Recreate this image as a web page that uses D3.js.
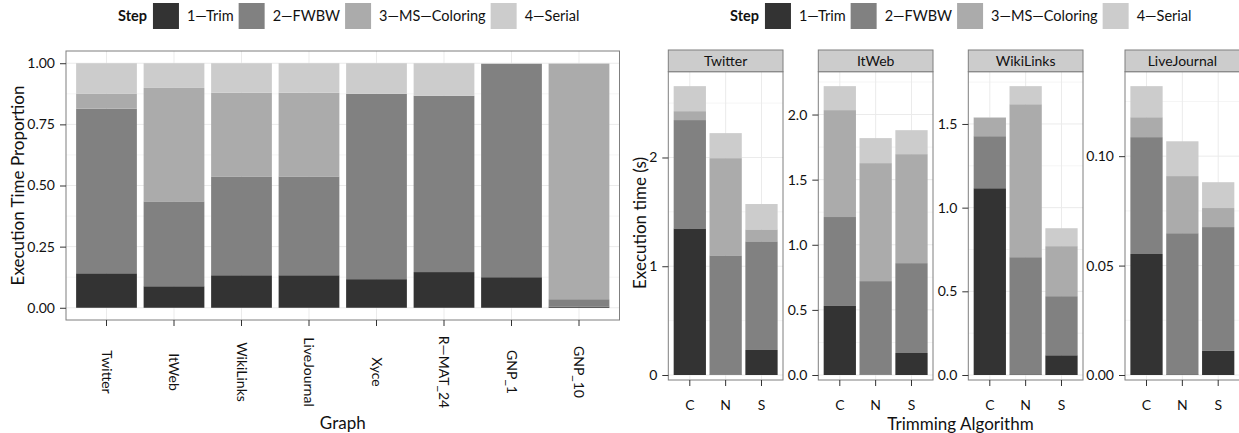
<!DOCTYPE html>
<html>
<head>
<meta charset="UTF-8">
<title>Execution time by step</title>
<script src="https://d3js.org/d3.v7.min.js"></script>
<style>
  body { margin: 0; background: #fff; }
  text { font-family: Lato, sans-serif; fill: #111; }
</style>
</head>
<body>
<div id="chart"></div>
<script>
// legend / steps
const steps = ["1\u2014Trim", "2\u2014FWBW", "3\u2014MS\u2014Coloring", "4\u2014Serial"];
const stepColors = ["#333333", "#818181", "#ababab", "#cccccc"];

// left chart: proportion of execution time per graph
const graphs = ["Twitter", "ItWeb", "WikiLinks", "LiveJournal", "Xyce", "R\u2014MAT_24", "GNP_1", "GNP_10"];
const propTrim   = [0.141, 0.088, 0.133, 0.133, 0.117, 0.146, 0.125, 0.005];
const propFWBW   = [0.673, 0.347, 0.404, 0.404, 0.758, 0.721, 0.872, 0.030];
const propMS     = [0.062, 0.464, 0.342, 0.342, 0.000, 0.000, 0.000, 0.963];
const propSerial = [0.124, 0.101, 0.121, 0.121, 0.125, 0.133, 0.003, 0.002];
const propTicks = [0, 0.25, 0.5, 0.75, 1];

// right chart: seconds per step, rows = C, N, S
const facets = ["Twitter", "ItWeb", "WikiLinks", "LiveJournal"];
const algorithms = ["C", "N", "S"];
const timeTwitter = [[1.348, 0.996, 0.082, 0.230], [0.005, 1.095, 0.894, 0.230], [0.230, 0.999, 0.110, 0.233]];
const timeItWeb = [[0.530, 0.683, 0.821, 0.184], [0.004, 0.717, 0.906, 0.192], [0.169, 0.690, 0.837, 0.184]];
const timeWikiLinks = [[1.116, 0.311, 0.110, 0.004], [0.004, 0.700, 0.914, 0.108], [0.118, 0.353, 0.299, 0.107]];
const timeLiveJournal = [[0.0553, 0.0534, 0.0091, 0.0142], [0.0003, 0.0645, 0.0261, 0.0159], [0.011, 0.0566, 0.0087, 0.0118]];
const ticksTwitter = [0, 1, 2];
const ticksItWeb = [0, 0.5, 1, 1.5, 2];
const ticksWikiLinks = [0, 0.5, 1, 1.5];
const ticksLiveJournal = [0, 0.05, 0.1];

const svg = d3.select("#chart").append("svg")
  .attr("width", 1239)
  .attr("height", 433);

const color = d3.scaleOrdinal().domain(steps).range(stepColors);
const stack = d3.stack().keys(steps);

function drawLegend(x0) {
  const g = svg.append("g");
  const step = g.append("text")
    .attr("x", x0).attr("y", 16).attr("dy", "0.35em")
    .style("font-size", "14.5px").style("font-weight", "bold")
    .text("Step");
  let x = x0 + step.node().getComputedTextLength() + 6;
  steps.forEach(s => {
    g.append("rect")
      .attr("x", x).attr("y", 3).attr("width", 26).attr("height", 26)
      .attr("fill", color(s));
    const t = g.append("text")
      .attr("x", x + 34).attr("y", 16).attr("dy", "0.35em")
      .style("font-size", "14.5px")
      .text(s);
    x = x + 34 + t.node().getComputedTextLength() + 5;
  });
}

function styleAxis(g) {
  g.select(".domain").remove();
  g.selectAll(".tick line").attr("stroke", "#333");
  g.selectAll(".tick text").style("font-size", "14px").attr("fill", "#111");
}

// ---------- left chart ----------
drawLegend(118);

const L = { x0: 66, x1: 619.5, y0: 51, y1: 320 };
const x = d3.scaleBand().domain(graphs).range([L.x0, L.x1]).paddingInner(0.1).paddingOuter(0.15);
const y = d3.scaleLinear().domain([-0.05, 1.05]).range([L.y1, L.y0]);

const leftRows = graphs.map((g, i) => ({
  graph: g,
  [steps[0]]: propTrim[i], [steps[1]]: propFWBW[i], [steps[2]]: propMS[i], [steps[3]]: propSerial[i]
}));

const lg = svg.append("g");
lg.append("rect").attr("x", L.x0).attr("y", L.y0).attr("width", L.x1 - L.x0).attr("height", L.y1 - L.y0).attr("fill", "#fff");
lg.selectAll(".minor").data(d3.pairs(propTicks).map(p => (p[0] + p[1]) / 2))
  .enter().append("line")
  .attr("x1", L.x0).attr("x2", L.x1).attr("y1", d => y(d)).attr("y2", d => y(d))
  .attr("stroke", "#f5f5f5").attr("stroke-width", 1);
lg.selectAll(".hmajor").data(propTicks)
  .enter().append("line")
  .attr("x1", L.x0).attr("x2", L.x1).attr("y1", d => y(d)).attr("y2", d => y(d))
  .attr("stroke", "#ebebeb").attr("stroke-width", 1);
lg.selectAll(".vmajor").data(graphs)
  .enter().append("line")
  .attr("x1", d => x(d) + x.bandwidth() / 2).attr("x2", d => x(d) + x.bandwidth() / 2)
  .attr("y1", L.y0).attr("y2", L.y1)
  .attr("stroke", "#ebebeb").attr("stroke-width", 1);

lg.selectAll(".layer").data(stack(leftRows))
  .enter().append("g")
  .attr("fill", d => color(d.key))
  .selectAll("rect").data(d => d)
  .enter().append("rect")
  .attr("x", d => x(d.data.graph))
  .attr("y", d => y(d[1]))
  .attr("width", x.bandwidth())
  .attr("height", d => Math.max(0, y(d[0]) - y(d[1])));

lg.append("rect").attr("x", L.x0).attr("y", L.y0).attr("width", L.x1 - L.x0).attr("height", L.y1 - L.y0)
  .attr("fill", "none").attr("stroke", "#7f7f7f").attr("stroke-width", 1);

lg.append("g")
  .attr("transform", "translate(" + L.x0 + ",0)")
  .call(d3.axisLeft(y).tickValues(propTicks).tickFormat(d3.format(".2f")).tickSize(6).tickPadding(5))
  .call(styleAxis);

lg.append("g")
  .attr("transform", "translate(0," + L.y1 + ")")
  .call(d3.axisBottom(x).tickSize(6))
  .call(styleAxis)
  .selectAll(".tick text")
  .attr("y", 0).attr("dy", "0.35em")
  .attr("text-anchor", "middle")
  .attr("transform", "translate(0,52) rotate(90)");

lg.append("text")
  .attr("transform", "translate(18," + ((L.y0 + L.y1) / 2) + ") rotate(-90)")
  .attr("text-anchor", "middle").attr("dy", "0.35em")
  .style("font-size", "17px")
  .text("Execution Time Proportion");

lg.append("text")
  .attr("x", (L.x0 + L.x1) / 2).attr("y", 423).attr("dy", "0.35em")
  .attr("text-anchor", "middle")
  .style("font-size", "17px")
  .text("Graph");

// ---------- right chart ----------
drawLegend(730);

const facetTimes = [timeTwitter, timeItWeb, timeWikiLinks, timeLiveJournal];
const facetTicks = [ticksTwitter, ticksItWeb, ticksWikiLinks, ticksLiveJournal];
const facetFormat = [d3.format("d"), d3.format(".1f"), d3.format(".1f"), d3.format(".2f")];
const panelLeft = [668.3, 818.3, 968.3, 1125];
const panelW = 114.7;
const stripTop = 50, panelTop = 71.7, zeroY = 375, panelBottom = 380;

facets.forEach((name, fi) => {
  const px = panelLeft[fi];
  const rows = algorithms.map((a, ai) => {
    const r = { alg: a };
    steps.forEach((s, si) => { r[s] = facetTimes[fi][ai][si]; });
    return r;
  });
  const maxTotal = d3.max(facetTimes[fi], v => d3.sum(v));
  const fx = d3.scaleBand().domain(algorithms).range([px, px + panelW]).paddingInner(0.1).paddingOuter(0.15);
  const fy = d3.scaleLinear().domain([0, maxTotal * 1.05]).range([zeroY, panelTop]);
  const ticks = facetTicks[fi];
  const stepT = ticks[1] - ticks[0];
  const minor = ticks.map(t => t + stepT / 2).filter(t => t < maxTotal * 1.05);

  const g = svg.append("g");
  g.append("rect").attr("x", px).attr("y", panelTop).attr("width", panelW).attr("height", panelBottom - panelTop).attr("fill", "#fff");
  g.selectAll(".minor").data(minor).enter().append("line")
    .attr("x1", px).attr("x2", px + panelW).attr("y1", d => fy(d)).attr("y2", d => fy(d))
    .attr("stroke", "#f5f5f5");
  g.selectAll(".hmajor").data(ticks).enter().append("line")
    .attr("x1", px).attr("x2", px + panelW).attr("y1", d => fy(d)).attr("y2", d => fy(d))
    .attr("stroke", "#ebebeb");
  g.selectAll(".vmajor").data(algorithms).enter().append("line")
    .attr("x1", d => fx(d) + fx.bandwidth() / 2).attr("x2", d => fx(d) + fx.bandwidth() / 2)
    .attr("y1", panelTop).attr("y2", panelBottom)
    .attr("stroke", "#ebebeb");

  g.selectAll(".layer").data(stack(rows)).enter().append("g")
    .attr("fill", d => color(d.key))
    .selectAll("rect").data(d => d).enter().append("rect")
    .attr("x", d => fx(d.data.alg))
    .attr("y", d => fy(d[1]))
    .attr("width", fx.bandwidth())
    .attr("height", d => Math.max(0, fy(d[0]) - fy(d[1])));

  g.append("rect").attr("x", px).attr("y", panelTop).attr("width", panelW).attr("height", panelBottom - panelTop)
    .attr("fill", "none").attr("stroke", "#7f7f7f");

  // strip
  g.append("rect").attr("x", px).attr("y", stripTop).attr("width", panelW).attr("height", panelTop - stripTop)
    .attr("fill", "#cccccc").attr("stroke", "#7f7f7f");
  g.append("text")
    .attr("x", px + panelW / 2).attr("y", (stripTop + panelTop) / 2).attr("dy", "0.35em")
    .attr("text-anchor", "middle").style("font-size", "14px")
    .text(name);

  g.append("g")
    .attr("transform", "translate(" + px + ",0)")
    .call(d3.axisLeft(fy).tickValues(ticks).tickFormat(facetFormat[fi]).tickSize(6).tickPadding(5))
    .call(styleAxis);

  g.append("g")
    .attr("transform", "translate(0," + panelBottom + ")")
    .call(d3.axisBottom(fx).tickSize(6))
    .call(styleAxis)
    .selectAll(".tick text")
    .attr("y", 25).attr("dy", "0.35em");
});

svg.append("text")
  .attr("transform", "translate(640,223) rotate(-90)")
  .attr("text-anchor", "middle").attr("dy", "0.35em")
  .style("font-size", "17px")
  .text("Execution time (s)");

svg.append("text")
  .attr("x", 960.5).attr("y", 424).attr("dy", "0.35em")
  .attr("text-anchor", "middle")
  .style("font-size", "17px")
  .text("Trimming Algorithm");
</script>
</body>
</html>
